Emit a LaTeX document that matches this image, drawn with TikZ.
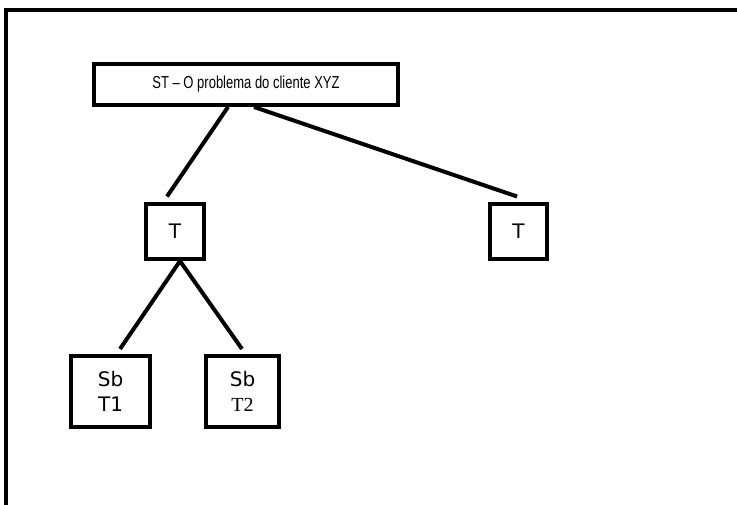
\documentclass[tikz,border=0pt]{standalone}
\usepackage{fontspec}
\usepackage{tikz}
\usetikzlibrary{positioning,calc}
\setmainfont{DejaVu Sans}
\newfontfamily\narrowsans[FakeStretch=0.75]{Liberation Sans}
\newfontfamily\timesface{Liberation Serif}

\begin{document}
\begin{tikzpicture}[x=0.75pt,y=0.75pt,
    box/.style={draw,line width=3pt,inner sep=0pt,align=center,
                font=\fontsize{15}{19}\selectfont},
    link/.style={line width=3pt}]
  \useasboundingbox (0,0) rectangle (737,505);
  % frame
  \draw[line width=3pt] (5.7,0) -- (5.7,494.5) -- (737,494.5);
  % boxes
  \node[box,minimum width=228pt,minimum height=30.75pt,
        font=\narrowsans\fontsize{13}{15}\selectfont] (st) at (246,420.5) {ST – O problema do cliente XYZ};
  \node[box,minimum width=43.5pt,minimum height=41.25pt] (tl) at (175,273.5) {T};
  \node[box,minimum width=42.75pt,minimum height=41.25pt] (tr) at (518.5,273.5) {T};
  \node[box,minimum width=59.25pt,minimum height=53.25pt] (sbta) at (110.5,113.5) {Sb\\T1};
  \node[box,minimum width=54.75pt,minimum height=53.25pt] (sbtb) at (242.5,113.5) {Sb\\{\timesface T2}};
  % connectors
  \draw[link] ($(st.south)+(-18,0)$) -- ($(tl.north)+(-8,5.5)$);
  \draw[link] ($(st.south)+(8,0)$) -- ($(tr.north)+(-1.5,5.5)$);
  \draw[link] ($(tl.south)+(5,0)$) -- ($(sbta.north)+(9.5,5)$);
  \draw[link] ($(tl.south)+(5,0)$) -- ($(sbtb.north)+(-0.5,5)$);
\end{tikzpicture}
\end{document}
